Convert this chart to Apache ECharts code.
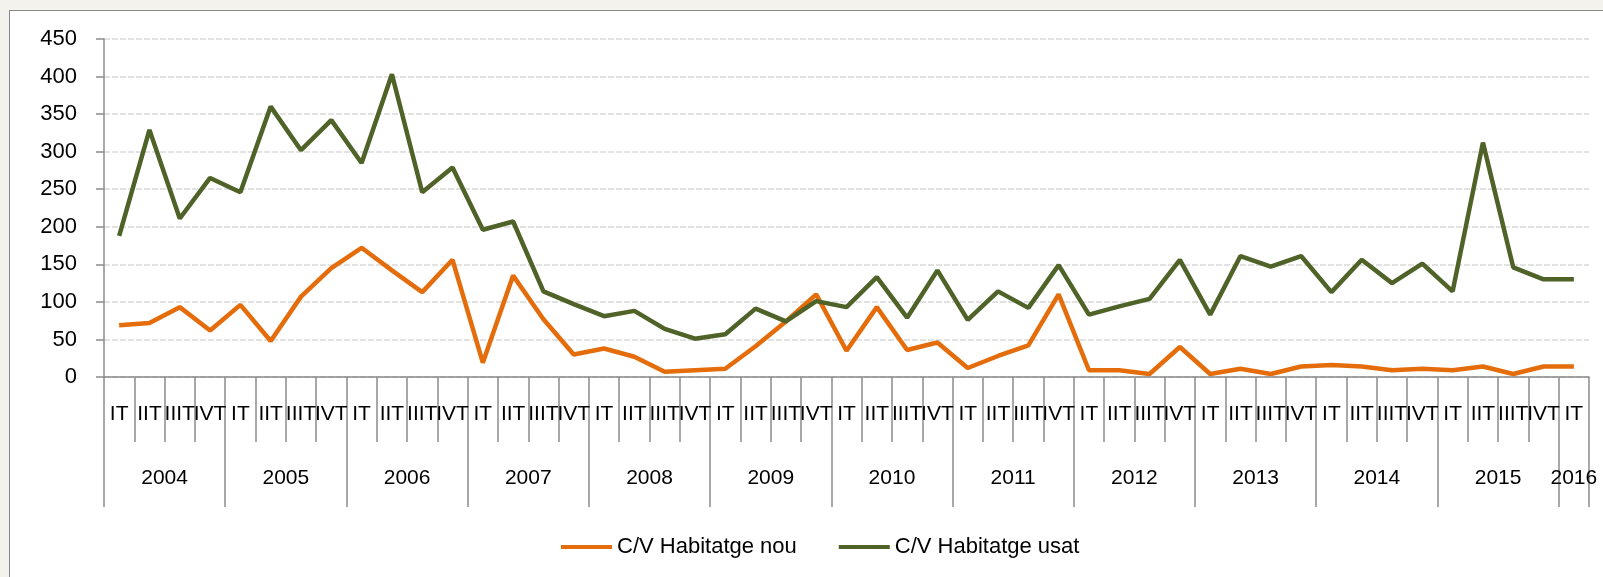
<!DOCTYPE html>
<html>
<head>
<meta charset="utf-8">
<script src="https://cdn.jsdelivr.net/npm/echarts@6/dist/echarts.min.js"></script>
<style>
  html, body { margin: 0; padding: 0; background: #f4f2ed; }
  #frame { position: absolute; left: 9px; top: 10px; width: 1600px; height: 600px;
           background: #fff; border: 1.5px solid #8a8a8a; box-sizing: border-box; }
  #chart { position: absolute; left: 0; top: 0; width: 1603px; height: 577px; }
</style>
</head>
<body>
<div id="frame"></div>
<div id="chart"></div>
<script>
const quarters = ['IT', 'IIT', 'IIIT', 'IVT'];
const years = ['2004', '2005', '2006', '2007', '2008', '2009', '2010', '2011', '2012', '2013', '2014', '2015', '2016'];

// 2004 IT .. 2016 IT
const habitatgeNou = [
  69, 72, 93, 62, 96, 48, 107, 145, 172, 142, 113, 156,
  19, 135, 77, 30, 38, 27, 7, 9, 11, 41, 74, 110,
  35, 93, 36, 46, 12, 28, 42, 110, 9, 9, 4, 40,
  4, 11, 4, 14, 16, 14, 9, 11, 9, 14, 4, 14,
  14
];
const habitatgeUsat = [
  188, 329, 211, 265, 246, 360, 302, 342, 285, 403, 246, 279,
  196, 207, 114, 97, 81, 88, 64, 51, 57, 91, 74, 101,
  93, 133, 79, 142, 76, 114, 92, 149, 83, 94, 104, 156,
  83, 161, 147, 161, 113, 156, 125, 151, 114, 312, 146, 130,
  130
];

const quarterLabels = [];
for (let i = 0; i < habitatgeNou.length; i++) quarterLabels.push(quarters[i % 4]);

const yearTicks = [];
const yearLabelPos = [];
for (let y = 0; y < years.length; y++) {
  yearTicks.push(y * 4);
  const end = Math.min(y * 4 + 4, quarterLabels.length);
  yearLabelPos.push((y * 4 + end) / 2);
}
yearTicks.push(quarterLabels.length);

const axisGrey = '#8c8c8c';
const font = 'Liberation Sans';

const chart = echarts.init(document.getElementById('chart'));

chart.setOption({
  animation: false,
  backgroundColor: 'transparent',
  textStyle: { fontFamily: font },
  grid: { left: 104, right: 14, top: 39, bottom: 200 },
  legend: {
    left: 556,
    top: 531,
    icon: 'rect',
    itemWidth: 51,
    itemHeight: 4,
    itemGap: 42,
    textStyle: { fontFamily: font, fontSize: 22, color: '#000' },
    data: ['C/V Habitatge nou', 'C/V Habitatge usat']
  },
  xAxis: [
    {
      type: 'category',
      position: 'bottom',
      data: quarterLabels,
      boundaryGap: true,
      axisLine: { lineStyle: { color: axisGrey, width: 1.5 } },
      axisTick: { show: true, interval: 0, length: 65, lineStyle: { color: axisGrey, width: 1.5 } },
      axisLabel: { interval: 0, margin: 27, fontSize: 21, color: '#000', fontFamily: font }
    },
    {
      type: 'value',
      position: 'bottom',
      min: 0,
      max: quarterLabels.length,
      offset: 0,
      axisLine: { show: false },
      splitLine: { show: false },
      axisTick: { show: true, length: 130, customValues: yearTicks, lineStyle: { color: axisGrey, width: 1.5 } },
      axisLabel: {
        margin: 91,
        fontSize: 21,
        color: '#000',
        fontFamily: font,
        customValues: yearLabelPos,
        formatter: v => years[Math.floor(v / 4)]
      }
    }
  ],
  yAxis: {
    type: 'value',
    min: 0,
    max: 450,
    interval: 50,
    axisLine: { show: true, lineStyle: { color: axisGrey, width: 1.5 } },
    axisTick: { show: true, length: 8, lineStyle: { color: axisGrey, width: 1.5 } },
    axisLabel: { margin: 27, fontSize: 22, color: '#000', fontFamily: font },
    splitLine: { lineStyle: { color: '#d9d9d9', width: 1.5, type: [6, 2] } }
  },
  series: [
    {
      name: 'C/V Habitatge nou',
      type: 'line',
      xAxisIndex: 0,
      data: habitatgeNou,
      symbol: 'none',
      color: '#e46c0a',
      lineStyle: { color: '#e46c0a', width: 4.5 }
    },
    {
      name: 'C/V Habitatge usat',
      type: 'line',
      xAxisIndex: 0,
      data: habitatgeUsat,
      symbol: 'none',
      color: '#4f6228',
      lineStyle: { color: '#4f6228', width: 4.5 }
    }
  ]
});
</script>
</body>
</html>
